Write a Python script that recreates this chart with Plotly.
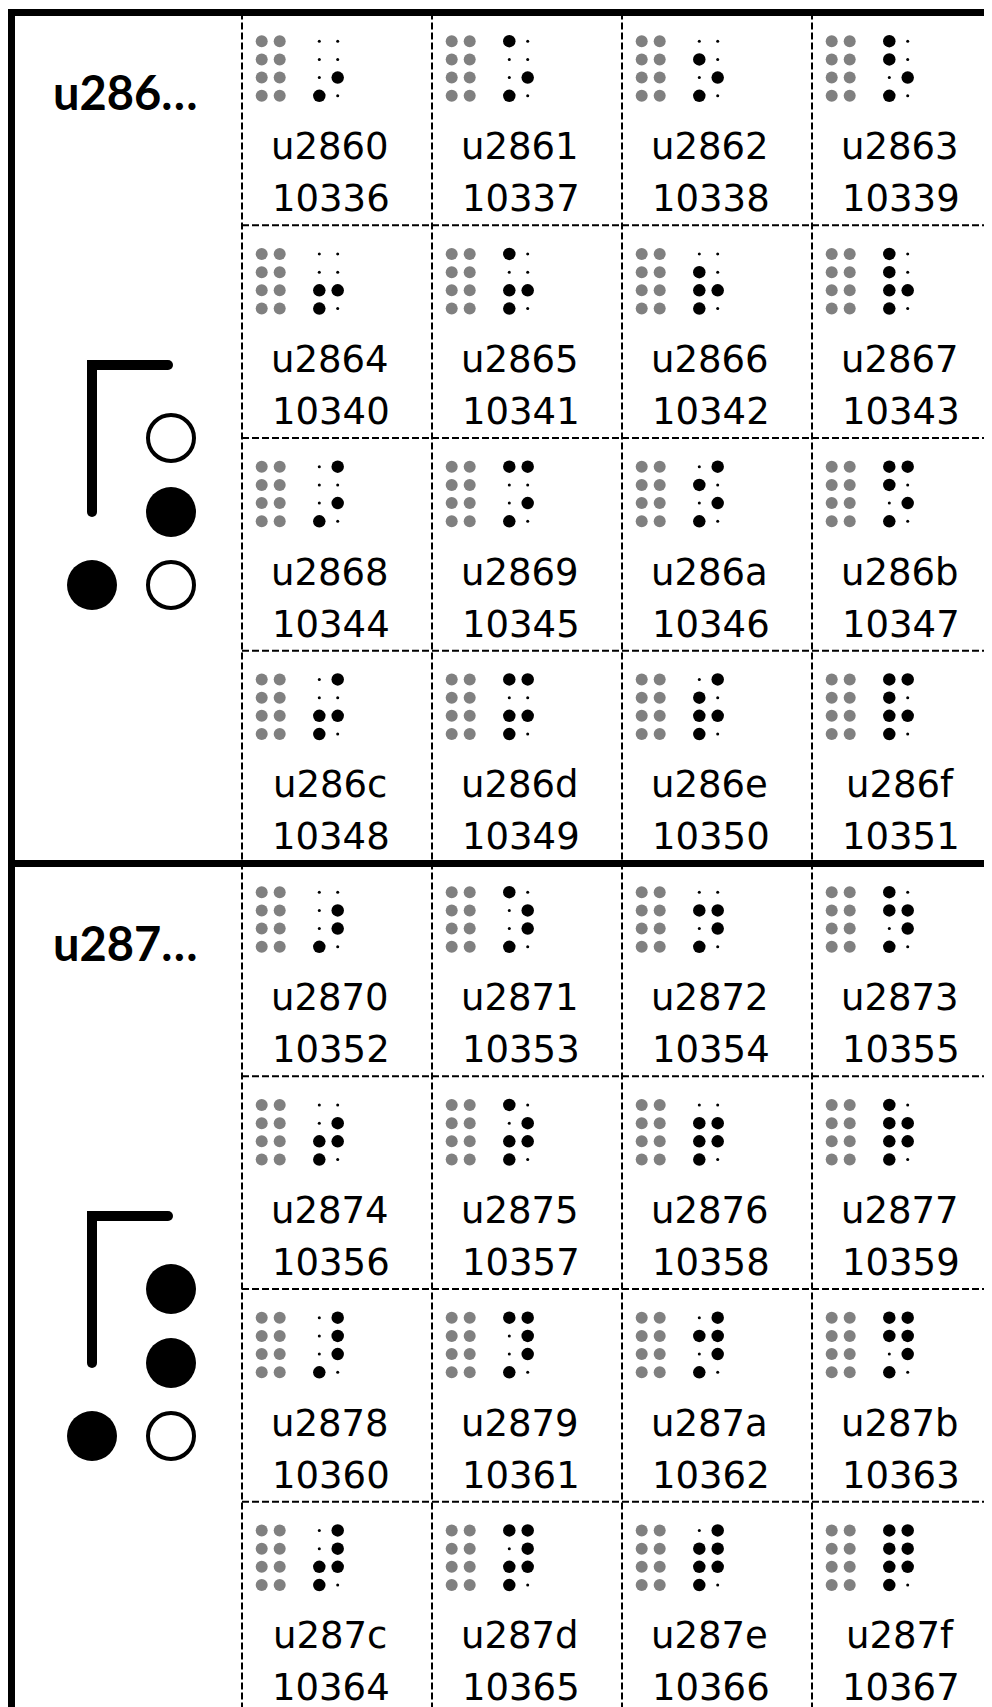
import plotly.graph_objects as go

# data
blocks = ["u286…", "u287…"]
block_high = [0x6, 0x7]  # high nibble -> dots 5..8
codes = ["u2860", "u2861", "u2862", "u2863", "u2864", "u2865", "u2866", "u2867",
         "u2868", "u2869", "u286a", "u286b", "u286c", "u286d", "u286e", "u286f",
         "u2870", "u2871", "u2872", "u2873", "u2874", "u2875", "u2876", "u2877",
         "u2878", "u2879", "u287a", "u287b", "u287c", "u287d", "u287e", "u287f"]
decimals = [10336, 10337, 10338, 10339, 10340, 10341, 10342, 10343,
            10344, 10345, 10346, 10347, 10348, 10349, 10350, 10351,
            10352, 10353, 10354, 10355, 10356, 10357, 10358, 10359,
            10360, 10361, 10362, 10363, 10364, 10365, 10366, 10367]

# layout geometry (page pixels)
OX, OY = 8, 8
W, H = 984, 1707
col_left = [242, 432, 622, 812]
top = 12.5
pitch = 212.75
sec_h = 4 * pitch
# braille dot number -> (column, row)
dot_pos = {1: (0, 0), 2: (0, 1), 3: (0, 2), 4: (1, 0), 5: (1, 1), 6: (1, 2), 7: (0, 3), 8: (1, 3)}

fig = go.Figure()
shapes = []
annotations = []

gx, gy, bx, by, sx, sy = [], [], [], [], [], []
for i, (code, dec) in enumerate(zip(codes, decimals)):
    s, j = divmod(i, 16)
    r, c = divmod(j, 4)
    L = col_left[c]
    T = top + (s * 4 + r) * pitch
    for d, (pc, pr) in dot_pos.items():
        gx.append(L + 19.7 + 18 * pc)
        gy.append(T + 28.7 + 18.2 * pr)
        x = L + 77.3 + 18.4 * pc
        y = T + 28.7 + 18.2 * pr
        if (dec - 0x2800) >> (d - 1) & 1:
            bx.append(x); by.append(y)
        else:
            sx.append(x); sy.append(y)
    annotations.append(dict(x=L + 87.5, y=T + 134, text=code, showarrow=False,
                            font=dict(family="DejaVu Sans", size=37, color="black")))
    annotations.append(dict(x=L + 88.5, y=T + 186, text=str(dec), showarrow=False,
                            font=dict(family="DejaVu Sans", size=37, color="black")))

fig.add_trace(go.Scatter(x=gx, y=gy, mode="markers", hoverinfo="skip",
                         marker=dict(size=12, color="#808080", line=dict(width=0))))
fig.add_trace(go.Scatter(x=bx, y=by, mode="markers", hoverinfo="skip",
                         marker=dict(size=12.5, color="black", line=dict(width=0))))
fig.add_trace(go.Scatter(x=sx, y=sy, mode="markers", hoverinfo="skip",
                         marker=dict(size=3, color="black", line=dict(width=0))))

# big legend symbols in the left column
fx, fy, ex, ey = [], [], [], []
for s, (label, hi) in enumerate(zip(blocks, block_high)):
    S = top + s * sec_h
    annotations.append(dict(x=125, y=S + 79, text="<b>" + label + "</b>", showarrow=False,
                            font=dict(family="Lato", size=47, color="black")))
    fig.add_trace(go.Scatter(x=[92, 92, 168], y=[S + 499.5, S + 352.5, S + 352.5],
                             mode="lines+markers", hoverinfo="skip",
                             line=dict(color="black", width=10),
                             marker=dict(size=10, color="black")))
    big = {5: (171, S + 425.5), 6: (171, S + 499.5), 7: (92, S + 572.5), 8: (171, S + 572.5)}
    for k, (x, y) in big.items():
        if hi >> (k - 5) & 1:
            fx.append(x); fy.append(y)
        else:
            ex.append(x); ey.append(y)

fig.add_trace(go.Scatter(x=fx, y=fy, mode="markers", hoverinfo="skip",
                         marker=dict(size=50, color="black", line=dict(width=0))))
fig.add_trace(go.Scatter(x=ex, y=ey, mode="markers", hoverinfo="skip",
                         marker=dict(size=46, color="white", line=dict(width=4, color="black"))))

# grid lines
dash = dict(color="black", width=2, dash="7px,3px")
for L in col_left:
    shapes.append(dict(type="line", x0=L, x1=L, y0=top, y1=1730, line=dash, layer="below"))
for s in range(2):
    for r in range(1, 4):
        y = top + s * sec_h + r * pitch
        shapes.append(dict(type="line", x0=242, x1=1000, y0=y, y1=y, line=dash, layer="below"))
thick = dict(color="black", width=7)
shapes.append(dict(type="line", x0=8, x1=1000, y0=top, y1=top, line=thick))
shapes.append(dict(type="line", x0=8, x1=1000, y0=top + sec_h, y1=top + sec_h, line=thick))
shapes.append(dict(type="line", x0=11.5, x1=11.5, y0=9, y1=1730, line=thick))
shapes.append(dict(type="line", x0=8, x1=1000, y0=top + 2 * sec_h, y1=top + 2 * sec_h, line=thick))

fig.update_layout(
    width=W, height=H, autosize=False,
    margin=dict(l=0, r=0, t=0, b=0),
    paper_bgcolor="white", plot_bgcolor="white",
    showlegend=False, shapes=shapes, annotations=annotations,
)
fig.update_xaxes(range=[OX, OX + W], visible=False, fixedrange=True)
fig.update_yaxes(range=[OY + H, OY], visible=False, fixedrange=True)

fig.write_html("out.html")
